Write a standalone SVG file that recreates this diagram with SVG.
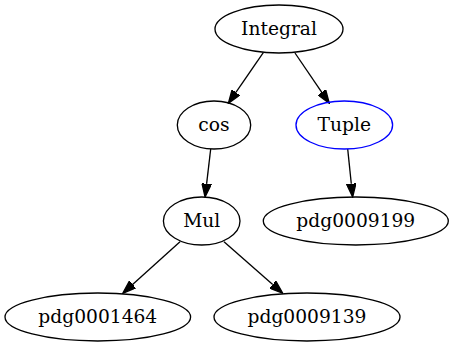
<svg xmlns="http://www.w3.org/2000/svg" width="455" height="347" viewBox="0 0 455 347">
<defs>
<style>
.n ellipse{fill:none;stroke:#000;stroke-width:1.33}
.n text{font-family:"DejaVu Serif","Liberation Serif",serif;font-size:18.67px;text-anchor:middle;fill:#000}
.e line{stroke:#000;stroke-width:1.33;marker-end:url(#ah)}
</style>
<marker id="ah" viewBox="0 -5 14 10" markerWidth="14" markerHeight="10" refX="0" refY="0" orient="auto" markerUnits="userSpaceOnUse">
<path d="M0,-4.67 L13.3,0 L0,4.67 z" fill="#000" stroke="#000" stroke-width="1.33"/>
</marker>
</defs>
<rect width="455" height="347" fill="#fff"/>
<g id="edges" class="e">
<line x1="263.3" y1="52.7" x2="235.9" y2="92.4"/>
<line x1="295" y1="53" x2="321.8" y2="92.3"/>
<line x1="210.7" y1="149" x2="206.6" y2="183.8"/>
<line x1="347.7" y1="149" x2="351.3" y2="183.8"/>
<line x1="180" y1="241.7" x2="132.6" y2="284.4"/>
<line x1="224" y1="241.7" x2="272.7" y2="284.5"/>
</g>
<g id="Integral" class="n"><ellipse cx="279" cy="29" rx="64" ry="24"/><text x="279" y="35">Integral</text></g>
<g id="cos" class="n"><ellipse cx="214" cy="125" rx="36.7" ry="24"/><text x="214" y="131">cos</text></g>
<g id="Tuple" class="n"><ellipse cx="344.3" cy="125" rx="48.3" ry="24" style="stroke:#00f"/><text x="344.3" y="131">Tuple</text></g>
<g id="Mul" class="n"><ellipse cx="201.7" cy="221" rx="38.3" ry="24"/><text x="201.7" y="227">Mul</text></g>
<g id="pdg0009199" class="n"><ellipse cx="355.8" cy="221" rx="92.5" ry="24"/><text x="355.8" y="227">pdg0009199</text></g>
<g id="pdg0001464" class="n"><ellipse cx="97.8" cy="317" rx="92.8" ry="24"/><text x="97.8" y="323">pdg0001464</text></g>
<g id="pdg0009139" class="n"><ellipse cx="307" cy="317" rx="93" ry="24"/><text x="307" y="323">pdg0009139</text></g>
</svg>
